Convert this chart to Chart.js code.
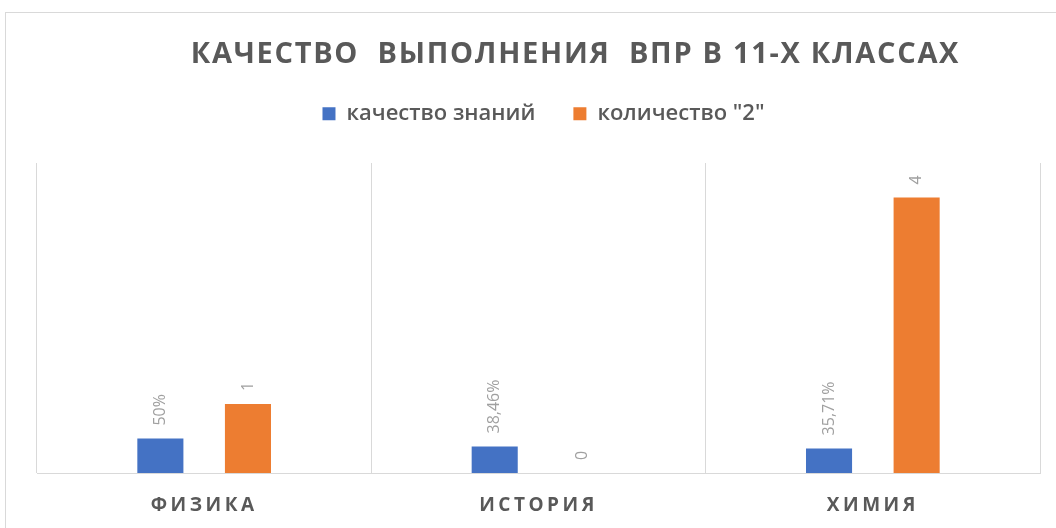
<!DOCTYPE html>
<html>
<head>
<meta charset="utf-8">
<script src="https://cdn.jsdelivr.net/npm/chart.js@4/dist/chart.umd.min.js"></script>
<style>
  html, body { margin: 0; padding: 0; background: #fff; overflow: hidden; }
  #frame {
    position: absolute; left: 5px; top: 12px;
    width: 1200px; height: 700px;
    border: 1px solid #d9d9d9;
  }
  #wrap { position: absolute; left: 0; top: 0; width: 1056px; height: 528px; }
</style>
</head>
<body>
<div id="frame"></div>
<div id="wrap"><canvas id="chart" width="1056" height="528"></canvas></div>
<script>
// данные
const subjects = ['ФИЗИКА', 'ИСТОРИЯ', 'ХИМИЯ']
const quality = [0.5, 0.3846, 0.3571]   // качество знаний (доля)
const twos = [1, 0, 4]                  // количество "2"
const seriesNames = ['качество знаний', 'количество "2"']

const textGray = '#595959'
const lineGray = '#d9d9d9'

function formatLabel(datasetIndex, v) {
  if (datasetIndex === 0) {
    return (v * 100).toLocaleString('ru-RU', { maximumFractionDigits: 2 }) + '%'
  }
  return String(v)
}

// подписи значений, повернутые на 90°
const valueLabels = {
  id: 'valueLabels',
  afterDatasetsDraw(chart) {
    const ctx = chart.ctx
    chart.data.datasets.forEach((ds, i) => {
      const meta = chart.getDatasetMeta(i)
      meta.data.forEach((bar, j) => {
        ctx.save()
        ctx.translate(bar.x, bar.y - 13)
        ctx.rotate(-Math.PI / 2)
        ctx.font = "16px 'Open Sans'"
        ctx.fillStyle = '#a0a0a0'
        ctx.textAlign = 'left'
        ctx.textBaseline = 'middle'
        ctx.fillText(formatLabel(i, ds.data[j]), 0, 0)
        ctx.restore()
      })
    })
  }
}

// высота легенды: область графика начинается с y = 163
const legendHeight = {
  id: 'legendHeight',
  beforeInit(chart) {
    const fit = chart.legend.fit
    chart.legend.fit = function () {
      fit.bind(chart.legend)()
      this.height = 163 - 71.8
    }
  }
}

const chart = new Chart(document.getElementById('chart'), {
  type: 'bar',
  data: {
    labels: subjects,
    datasets: [
      {
        label: seriesNames[0],
        data: quality,
        backgroundColor: '#4472c4',
        categoryPercentage: 0.524,
        barPercentage: 0.526
      },
      {
        label: seriesNames[1],
        data: twos,
        backgroundColor: '#ed7d31',
        categoryPercentage: 0.524,
        barPercentage: 0.526
      }
    ]
  },
  options: {
    responsive: false,
    animation: false,
    layout: {
      padding: { left: 37, right: 16, top: 0, bottom: 0 }
    },
    plugins: {
      title: {
        display: true,
        text: 'КАЧЕСТВО  ВЫПОЛНЕНИЯ  ВПР В 11-Х КЛАССАХ',
        color: textGray,
        font: { family: "'Open Sans'", size: 29, weight: 'bold', lineHeight: 1.2 },
        padding: { top: 37, bottom: 0 }
      },
      legend: {
        position: 'top',
        labels: {
          color: textGray,
          font: { family: "'Open Sans'", size: 22, weight: '600' },
          boxWidth: 13,
          boxHeight: 13,
          padding: 38
        }
      },
      tooltip: { enabled: false }
    },
    scales: {
      x: {
        grid: { color: lineGray, drawTicks: false, offset: true },
        border: { color: lineGray },
        ticks: {
          color: textGray,
          font: { family: "'Open Sans'", size: 19, weight: 'bold' },
          padding: 21
        },
        afterFit(scale) {
          scale.height = 528 - 473
        }
      },
      y: {
        display: false,
        min: 0,
        max: 4.5
      }
    }
  },
  plugins: [valueLabels, legendHeight]
})

// разрядка букв и сдвиг заголовка, легенды и подписей оси
function tweak(obj, method, spacing, dx, dy) {
  const orig = obj[method].bind(obj)
  obj[method] = function (...args) {
    const ctx = chart.ctx
    ctx.save()
    ctx.letterSpacing = spacing
    ctx.translate(dx, dy)
    orig(...args)
    ctx.restore()
  }
}
tweak(chart.titleBlock, 'draw', '1.7px', 37, 0)
tweak(chart.legend, 'draw', '0px', 5, -7)
tweak(chart.scales.x, 'drawLabels', '3.5px', 0, 0)
chart.draw()
</script>
</body>
</html>
